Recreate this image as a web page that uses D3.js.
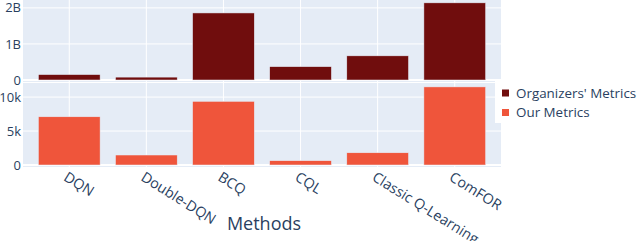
<!DOCTYPE html>
<html>
<head>
<meta charset="utf-8">
<script src="https://cdn.jsdelivr.net/npm/d3@7"></script>
<style>
  body { margin: 0; background: #fff; }
  text { font-family: "Open Sans", sans-serif; fill: #2a3f5f; }
</style>
</head>
<body>
<div id="chart"></div>
<script>
// data
var methods = ["DQN", "Double-DQN", "BCQ", "CQL", "Classic Q-Learning", "ComFOR"];
var organizersMetrics = [0.15e9, 0.08e9, 1.86e9, 0.37e9, 0.67e9, 2.14e9];
var ourMetrics = [7100, 1470, 9370, 630, 1800, 11500];
var topTicks = [0, 1e9, 2e9];
var topTickLabels = ["0", "1B", "2B"];
var bottomTicks = [0, 5000, 10000];
var bottomTickLabels = ["0", "5k", "10k"];
var seriesNames = ["Organizers' Metrics", "Our Metrics"];
var seriesColors = ["#700d0d", "#ef553b"];

var W = 640, H = 241;
var left = 23, right = 501;

var svg = d3.select("#chart").append("svg")
    .attr("width", W)
    .attr("height", H);

var x = d3.scaleBand()
    .domain(methods)
    .range([left, right])
    .padding(0.2);

// two stacked subplots
var panels = [
    { values: organizersMetrics, ticks: topTicks, labels: topTickLabels, color: seriesColors[0], y0: 80, y1: -1 },
    { values: ourMetrics, ticks: bottomTicks, labels: bottomTickLabels, color: seriesColors[1], y0: 165, y1: 83 }
];

panels.forEach(function (p) {
    var max = d3.max(p.values) * 1.05;
    var y = d3.scaleLinear().domain([0, max]).range([p.y0, p.y1]);
    var g = svg.append("g");

    g.append("rect")
        .attr("x", left)
        .attr("y", p.y1)
        .attr("width", right - left)
        .attr("height", p.y0 - p.y1 + 2)
        .attr("fill", "#e5ecf6");

    // vertical grid at categories
    g.selectAll(".vgrid").data(methods).enter().append("line")
        .attr("x1", function (d) { return x(d) + x.bandwidth() / 2; })
        .attr("x2", function (d) { return x(d) + x.bandwidth() / 2; })
        .attr("y1", p.y1)
        .attr("y2", p.y0 + 2)
        .attr("stroke", "#fff")
        .attr("stroke-width", 1);

    // horizontal grid
    g.selectAll(".hgrid").data(p.ticks).enter().append("line")
        .attr("x1", left)
        .attr("x2", right)
        .attr("y1", function (d) { return y(d); })
        .attr("y2", function (d) { return y(d); })
        .attr("stroke", "#fff")
        .attr("stroke-width", function (d) { return d === 0 ? 2 : 1; });

    g.selectAll(".bar").data(p.values).enter().append("rect")
        .attr("x", function (d, i) { return x(methods[i]); })
        .attr("width", x.bandwidth())
        .attr("y", function (d) { return y(d); })
        .attr("height", function (d) { return y(0) - y(d); })
        .attr("fill", p.color)
        .attr("stroke", "#e5ecf6")
        .attr("stroke-width", 0.5);

    g.selectAll(".ytick").data(p.ticks).enter().append("text")
        .attr("x", left - 2)
        .attr("y", function (d) { return y(d); })
        .attr("dy", "0.35em")
        .attr("text-anchor", "end")
        .attr("font-size", 13)
        .text(function (d, i) { return p.labels[i]; });
});

// legend with white box over the plot edge
svg.append("rect")
    .attr("x", 495)
    .attr("y", 81)
    .attr("width", W - 495)
    .attr("height", 42)
    .attr("fill", "#fff");

var legend = svg.selectAll(".legend").data(seriesNames).enter().append("g")
    .attr("transform", function (d, i) { return "translate(502," + (93 + i * 19.5) + ")"; });

legend.append("rect")
    .attr("x", 0)
    .attr("y", -3.5)
    .attr("width", 7)
    .attr("height", 7)
    .attr("fill", function (d, i) { return seriesColors[i]; });

legend.append("text")
    .attr("x", 14)
    .attr("dy", "0.35em")
    .attr("font-size", 13.4)
    .text(function (d) { return d; });

// x tick labels, rotated
svg.selectAll(".xtick").data(methods).enter().append("text")
    .attr("transform", function (d) {
        return "translate(" + (x(d) + x.bandwidth() / 2 - 1) + ",171) rotate(32)";
    })
    .attr("dy", "0.72em")
    .attr("text-anchor", "start")
    .attr("font-size", 14.3)
    .text(function (d) { return d; });

svg.append("text")
    .attr("x", (left + right) / 2 + 2)
    .attr("y", 230)
    .attr("text-anchor", "middle")
    .attr("font-size", 18)
    .text("Methods");
</script>
</body>
</html>
